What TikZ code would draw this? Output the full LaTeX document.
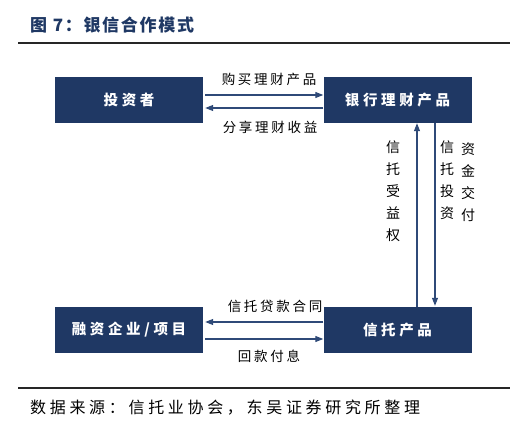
\documentclass[tikz,border=0pt]{standalone}
\usepackage{fontspec}
\setmainfont{Noto Sans CJK SC}
\usetikzlibrary{arrows.meta}
\definecolor{navy}{HTML}{1F3864}
\definecolor{arrowc}{HTML}{2F4A78}
\tikzset{
  box/.style={fill=navy, minimum width=148pt, minimum height=46pt, inner sep=0pt,
    text=white, font=\fontsize{14.5}{15}\selectfont\bfseries\addfontfeature{LetterSpace=25}},
  lbl/.style={inner sep=0pt, text=black, font=\fontsize{13.5}{14}\selectfont\addfontfeature{LetterSpace=20}},
  vlbl/.style={inner sep=0pt, text=black, align=center, font=\fontsize{14}{22}\selectfont},
  conn/.style={draw=arrowc, line width=1.1pt, -{Triangle[length=8pt,width=6pt]}},
  rule/.style={draw=black!85, line width=1.4pt}
}
\begin{document}
\begin{tikzpicture}[x=1pt,y=-1pt]
\useasboundingbox (0,0) rectangle (532,424);
\fill[white] (0,0) rectangle (532,424);
% title
\node[anchor=west, inner sep=0pt, text=navy, font=\fontsize{17}{17}\selectfont\bfseries\addfontfeature{LetterSpace=10}] (title) at (30,25) {图 7：银信合作模式};
\coordinate (r1a) at (18,43);
\coordinate (r1b) at (510,43);
\draw[rule] (r1a) -- (r1b);
% boxes
\node[box] (inv) at (129,100) {投资者};
\node[box] (bank) at (397.5,100) {银行理财产品};
\node[box] (fin) at (129,330) {融资企业/项目};
\node[box] (trust) at (397.5,330) {信托产品};
% horizontal arrows top
\draw[conn, shorten <=2pt] ([yshift=5pt]inv.east) -- ([yshift=5pt]bank.west);
\draw[conn, shorten >=2pt] ([yshift=-8pt]bank.west) -- ([yshift=-8pt]inv.east);
\node[lbl] (l1) at (269,79) {购买理财产品};
\node[lbl] (l2) at (270,127) {分享理财收益};
% horizontal arrows bottom
\draw[conn, shorten >=2pt] ([yshift=8pt]trust.west) -- ([yshift=8pt]fin.east);
\draw[conn, shorten <=2pt] ([yshift=-9pt]fin.east) -- ([yshift=-9pt]trust.west);
\node[lbl] (l3) at (275,306) {信托贷款合同};
\node[lbl] (l4) at (269,356) {回款付息};
% vertical arrows
\draw[conn] ([xshift=19.5pt]trust.north) -- ([xshift=19.5pt]bank.south);
\draw[conn, shorten >=1pt] ([xshift=37.5pt]bank.south) -- ([xshift=37.5pt]trust.north);
\node[vlbl, anchor=north] (v1) at (393,141) {信\\托\\受\\益\\权};
\node[vlbl, anchor=north] (v2) at (447,141) {信\\托\\投\\资};
\node[vlbl, anchor=north] (v3) at (468,143) {资\\金\\交\\付};
% bottom rule and source
\coordinate (r2a) at (18,388);
\coordinate (r2b) at (510,388);
\draw[rule] (r2a) -- (r2b);
\node[anchor=west, inner sep=0pt, text=black, font=\fontsize{16}{16}\selectfont\addfontfeature{LetterSpace=23}] (src) at (30,408) {数据来源：信托业协会，东吴证券研究所整理};
\end{tikzpicture}
\end{document}
